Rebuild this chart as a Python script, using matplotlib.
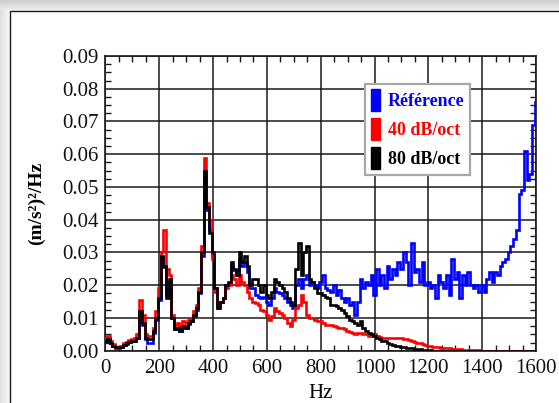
import numpy as np
import matplotlib
matplotlib.use('Agg')
import matplotlib.pyplot as plt
import matplotlib.patches as patches
from matplotlib.ticker import MultipleLocator, FormatStrFormatter

plt.rcParams['font.family'] = ['Liberation Serif', 'DejaVu Serif']

# spectra sampled every 10 Hz, 0..1600 Hz
freq = np.arange(0, 1601, 10)

psd_ref = [
    0.0030, 0.0034, 0.0024, 0.0014, 0.0008, 0.0008, 0.0011, 0.0017, 0.0021, 0.0027,
    0.0029, 0.0030, 0.0038, 0.0115, 0.0080, 0.0035, 0.0025, 0.0025, 0.0055, 0.0095,
    0.0155, 0.0285, 0.0255, 0.0170, 0.0210, 0.0100, 0.0065, 0.0068, 0.0060, 0.0072,
    0.0070, 0.0082, 0.0090, 0.0105, 0.0125, 0.0175, 0.0290, 0.0520, 0.0430, 0.0370,
    0.0290, 0.0190, 0.0135, 0.0150, 0.0160, 0.0200, 0.0205, 0.0260, 0.0245, 0.0230,
    0.0280, 0.0260, 0.0270, 0.0240, 0.0190, 0.0190, 0.0170, 0.0165, 0.0160, 0.0165,
    0.0150, 0.0140, 0.0160, 0.0190, 0.0180, 0.0175, 0.0170, 0.0160, 0.0150, 0.0140,
    0.0130, 0.0200, 0.0220, 0.0190, 0.0220, 0.0230, 0.0200, 0.0210, 0.0200, 0.0190,
    0.0210, 0.0230, 0.0190, 0.0185, 0.0180, 0.0200, 0.0170, 0.0185, 0.0160, 0.0150,
    0.0160, 0.0140, 0.0150, 0.0110, 0.0150, 0.0220, 0.0190, 0.0210, 0.0200, 0.0230,
    0.0170, 0.0250, 0.0200, 0.0230, 0.0190, 0.0260, 0.0220, 0.0250, 0.0230, 0.0270,
    0.0250, 0.0300, 0.0270, 0.0200, 0.0330, 0.0240, 0.0250, 0.0210, 0.0270, 0.0200,
    0.0210, 0.0190, 0.0200, 0.0160, 0.0230, 0.0210, 0.0190, 0.0230, 0.0170, 0.0280,
    0.0220, 0.0240, 0.0160, 0.0230, 0.0200, 0.0240, 0.0200, 0.0190, 0.0200, 0.0180,
    0.0200, 0.0180, 0.0220, 0.0240, 0.0210, 0.0240, 0.0230, 0.0260, 0.0270, 0.0280,
    0.0300, 0.0320, 0.0340, 0.0370, 0.0480, 0.0490, 0.0610, 0.0520, 0.0540, 0.0690,
    0.0760,
]

psd_40 = [
    0.0040, 0.0045, 0.0030, 0.0020, 0.0012, 0.0012, 0.0015, 0.0022, 0.0028, 0.0032,
    0.0035, 0.0038, 0.0050, 0.0155, 0.0110, 0.0050, 0.0045, 0.0045, 0.0070, 0.0120,
    0.0190, 0.0300, 0.0368, 0.0250, 0.0230, 0.0110, 0.0080, 0.0085, 0.0075, 0.0090,
    0.0085, 0.0095, 0.0100, 0.0120, 0.0140, 0.0190, 0.0320, 0.0590, 0.0450, 0.0400,
    0.0280, 0.0180, 0.0130, 0.0150, 0.0160, 0.0190, 0.0200, 0.0230, 0.0220, 0.0200,
    0.0230, 0.0210, 0.0200, 0.0180, 0.0160, 0.0150, 0.0145, 0.0140, 0.0125, 0.0120,
    0.0110, 0.0095, 0.0105, 0.0130, 0.0120, 0.0115, 0.0110, 0.0100, 0.0085, 0.0075,
    0.0095, 0.0130, 0.0140, 0.0170, 0.0150, 0.0110, 0.0100, 0.0100, 0.0095, 0.0090,
    0.0090, 0.0085, 0.0080, 0.0080, 0.0078, 0.0075, 0.0072, 0.0070, 0.0068, 0.0065,
    0.0060, 0.0058, 0.0055, 0.0052, 0.0055, 0.0055, 0.0050, 0.0050, 0.0045, 0.0048,
    0.0050, 0.0045, 0.0042, 0.0040, 0.0040, 0.0038, 0.0040, 0.0040, 0.0040, 0.0038,
    0.0040, 0.0035, 0.0035, 0.0033, 0.0030, 0.0028, 0.0025, 0.0022, 0.0020, 0.0018,
    0.0015, 0.0013, 0.0012, 0.0010, 0.0010, 0.0009, 0.0008, 0.0007, 0.0007, 0.0006,
    0.0005, 0.0005, 0.0004, 0.0003, 0.0002, 0.0001, 0.0001, 0.0001, 0.0001, 0.0001,
    0.0000, 0.0000, 0.0000, 0.0000, 0.0000, 0.0000, 0.0000, 0.0000, 0.0000, 0.0000,
    0.0000, 0.0000, 0.0000, 0.0000, 0.0000, 0.0000, 0.0000, 0.0000, 0.0000, 0.0000,
    0.0000,
]

psd_80 = [
    0.0030, 0.0035, 0.0025, 0.0015, 0.0010, 0.0010, 0.0012, 0.0018, 0.0022, 0.0028,
    0.0030, 0.0030, 0.0040, 0.0120, 0.0085, 0.0040, 0.0035, 0.0035, 0.0060, 0.0100,
    0.0160, 0.0290, 0.0260, 0.0160, 0.0220, 0.0100, 0.0065, 0.0070, 0.0060, 0.0075,
    0.0070, 0.0085, 0.0090, 0.0110, 0.0130, 0.0180, 0.0300, 0.0550, 0.0440, 0.0360,
    0.0300, 0.0190, 0.0130, 0.0150, 0.0160, 0.0200, 0.0210, 0.0270, 0.0250, 0.0230,
    0.0300, 0.0270, 0.0290, 0.0260, 0.0200, 0.0220, 0.0220, 0.0200, 0.0180, 0.0200,
    0.0170, 0.0160, 0.0180, 0.0220, 0.0210, 0.0200, 0.0190, 0.0180, 0.0160, 0.0150,
    0.0140, 0.0250, 0.0330, 0.0230, 0.0300, 0.0320, 0.0220, 0.0210, 0.0190, 0.0175,
    0.0175, 0.0170, 0.0165, 0.0160, 0.0140, 0.0140, 0.0135, 0.0130, 0.0125, 0.0115,
    0.0105, 0.0095, 0.0090, 0.0085, 0.0080, 0.0090, 0.0070, 0.0060, 0.0055, 0.0050,
    0.0045, 0.0040, 0.0035, 0.0030, 0.0030, 0.0025, 0.0020, 0.0018, 0.0015, 0.0013,
    0.0012, 0.0010, 0.0009, 0.0008, 0.0007, 0.0006, 0.0005, 0.0004, 0.0003, 0.0002,
    0.0001, 0.0001, 0.0000, 0.0000, 0.0000, 0.0000, 0.0000, 0.0000, 0.0000, 0.0000,
    0.0000, 0.0000, 0.0000, 0.0000, 0.0000, 0.0000, 0.0000, 0.0000, 0.0000, 0.0000,
    0.0000, 0.0000, 0.0000, 0.0000, 0.0000, 0.0000, 0.0000, 0.0000, 0.0000, 0.0000,
    0.0000, 0.0000, 0.0000, 0.0000, 0.0000, 0.0000, 0.0000, 0.0000, 0.0000, 0.0000,
    0.0000,
]

labels = ['Référence', '40 dB/oct', '80 dB/oct']
colors = ['#0000ff', '#ff0000', '#000000']

W, H = 559, 403
fig = plt.figure(figsize=(W / 100., H / 100.), dpi=100, facecolor='white')

# soft grey shadow along the top and left edges
rows = np.arange(H)[:, None] * np.ones((1, W))
cols = np.ones((H, 1)) * np.arange(W)[None, :]
shade = np.ones((H, W))
shade = np.where(rows < 11, np.minimum(shade, 0.80 + 0.16 * rows / 11.), shade)
shade = np.where(cols < 10, np.minimum(shade, 0.88 + 0.10 * cols / 10.), shade)
fig.figimage(np.dstack([shade] * 3), xo=0, yo=0, origin='upper', zorder=-20)

# dark border of the white panel
panel = patches.Rectangle((10. / W, -0.05), 1.1, (H - 11.) / H + 0.05,
                          transform=fig.transFigure, facecolor='none',
                          edgecolor='#1a1a1a', linewidth=1.0, zorder=-10)
fig.patches.append(panel)

ax = fig.add_axes([105.5 / W, (H - 350.7) / H, 430.5 / W, 294.7 / H])

for vals, col in zip([psd_ref, psd_40, psd_80], colors):
    ax.plot(freq, vals, color=col, linewidth=1.9, drawstyle='steps-mid',
            solid_joinstyle='miter', zorder=3)

ax.set_xlim(0, 1600)
ax.set_ylim(0, 0.09)
ax.xaxis.set_major_locator(MultipleLocator(200))
ax.xaxis.set_minor_locator(MultipleLocator(50))
ax.yaxis.set_major_locator(MultipleLocator(0.01))
ax.yaxis.set_minor_locator(MultipleLocator(0.0025))
ax.yaxis.set_major_formatter(FormatStrFormatter('%.2f'))

ax.grid(True, which='major', color='#1a1a1a', linewidth=1.1, zorder=1)
ax.tick_params(which='both', direction='in', top=True, right=True,
               colors='#1a1a1a', labelcolor='#111111', labelsize=15)
ax.tick_params(which='major', length=0, width=1.0)
ax.tick_params(which='minor', length=4, width=1.0)
ax.tick_params(axis='x', which='major', pad=6)
ax.tick_params(axis='y', which='major', pad=5)
for s in ax.spines.values():
    s.set_color('#1a1a1a')
    s.set_linewidth(1.2)

ax.set_xlabel('Hz', fontsize=15, labelpad=4)
ax.set_ylabel('(m/s²)²/Hz', fontsize=14, fontweight='bold', labelpad=12)

handles = [patches.Patch(facecolor=c, edgecolor=c) for c in colors]
leg = ax.legend(handles, labels, loc='upper left', bbox_to_anchor=(0.603, 0.905),
                borderaxespad=0, handlelength=0.5, handleheight=1.5,
                handletextpad=0.45, labelspacing=0.38, borderpad=0.3,
                fancybox=False, shadow=False, framealpha=1.0, edgecolor='#a8a8a8',
                prop={'weight': 'bold', 'size': 13})
leg.get_frame().set_linewidth(1.6)
for t, c in zip(leg.get_texts(), colors):
    t.set_color(c)
leg.set_zorder(5)

fig.savefig('out.png', dpi=100, facecolor=fig.get_facecolor())
